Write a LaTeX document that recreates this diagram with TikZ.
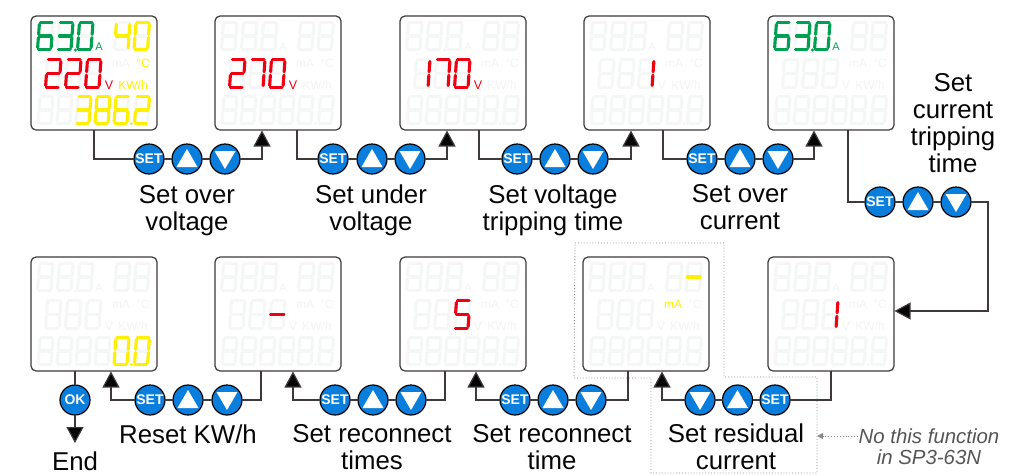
\documentclass[tikz,border=0pt]{standalone}
\usepackage{fontspec}
\setmainfont{Liberation Sans}
\usetikzlibrary{arrows.meta}
\definecolor{ink}{HTML}{3E3A39}
\definecolor{ghost}{HTML}{F5F6F6}
\definecolor{ghostlab}{HTML}{F3F4F4}
\definecolor{lcdgreen}{HTML}{00A051}
\definecolor{lcdred}{HTML}{F00010}
\definecolor{lcdyellow}{HTML}{FFF000}
\definecolor{btnblue}{HTML}{0A7EDC}
\definecolor{notegray}{HTML}{555555}
\definecolor{dotgray}{HTML}{8A8A8A}
\tikzset{
  segline/.style={line width=3.1pt,line cap=round},
  lcdpanel/.style={draw=ink,line width=1.2pt,fill=white,rounded corners=5pt,minimum width=126pt,minimum height=114pt,inner sep=0pt,outer sep=0pt},
  lcdlab/.style={inner sep=0pt,font=\fontsize{12}{12}\selectfont},
  btn/.style={circle,draw=black,line width=1.2pt,fill=btnblue,minimum size=30pt,inner sep=0pt,outer sep=0pt,text=white,font=\fontsize{14}{14}\selectfont\bfseries},
  upbtn/.style={btn,path picture={\fill[white] ([xshift=-10.5pt,yshift=-8pt]path picture bounding box.center) -- ([xshift=10.5pt,yshift=-8pt]path picture bounding box.center) -- ([yshift=10pt]path picture bounding box.center) -- cycle;}},
  dnbtn/.style={btn,path picture={\fill[white] ([xshift=-10.5pt,yshift=8pt]path picture bounding box.center) -- ([xshift=10.5pt,yshift=8pt]path picture bounding box.center) -- ([yshift=-10pt]path picture bounding box.center) -- cycle;}},
  conn/.style={draw=ink,line width=1.2pt},
  arr/.style={conn,-{Triangle[width=17pt,length=16pt,fill=black!90!ink]}},
  captext/.style={inner sep=0pt,align=center,text=black!90!ink,font=\fontsize{25.8}{27}\selectfont},
  notetext/.style={inner sep=0pt,align=center,text=notegray,font=\fontsize{20.4}{21}\selectfont\itshape},
  dotline/.style={draw=dotgray,line width=.9pt,dotted}
}
\newcommand\sega{\draw[segline] (.07,0) -- (.93,0);}
\newcommand\segb{\draw[segline] (1,.07) -- (1,.44);}
\newcommand\segc{\draw[segline] (1,.56) -- (1,.93);}
\newcommand\segd{\draw[segline] (.07,1) -- (.93,1);}
\newcommand\sege{\draw[segline] (0,.56) -- (0,.93);}
\newcommand\segf{\draw[segline] (0,.07) -- (0,.44);}
\newcommand\segg{\draw[segline] (.07,.5) -- (.93,.5);}
\newcommand\segh{\draw[segline,line width=3.9pt] (.05,.5) -- (.95,.5);}
\def\dzero{a,b,c,d,e,f}
\def\done{b,c}
\def\dtwo{a,b,g,e,d}
\def\dthree{a,b,g,c,d}
\def\dfour{f,g,b,c}
\def\dfive{a,f,g,c,d}
\def\dsix{a,f,g,e,c,d}
\def\dseven{a,b,c}
\def\deight{a,b,c,d,e,f,g}
\def\dminus{h}
% x y width height colour segments
\newcommand\dgt[6]{%
  \pgfmathsetmacro\dgw{#3-5}\pgfmathsetmacro\dgh{#4-3}%
  \begin{scope}[color=#5,shift={(#1+3.5,#2+1.5)},x={(\dgw pt,0pt)},y={(-2pt,-\dgh pt)}]
    \foreach \s in #6 {\csname seg\s\endcsname}
  \end{scope}}
\newcommand\rowA[3]{\dgt{5+20*#1}{5}{18.5}{30}{#3}{#2}}
\newcommand\rowB[3]{\dgt{82+19.5*#1}{5}{18.5}{30}{#3}{#2}}
\newcommand\rowC[3]{\dgt{13+20*#1}{42}{18.5}{31}{#3}{#2}}
% the last digit of the bottom row stands apart, with room for its point
\newcommand\rowD[3]{\pgfmathsetmacro\rdx{#1<5 ? 5.5+19*#1 : 102}\dgt{\rdx}{79}{18}{30}{#3}{#2}}
\newcommand\ptA[1]{\fill[#1] (44.5,34) circle (1.6pt);}
\newcommand\ptD[1]{\fill[#1] (100.5,107.5) circle (1.6pt);}
% name, left, top, colours of A V mA C KW/h
\newcommand\lcd[8]{%
  \node[lcdpanel] (#1) at (#2+63,#3+57) {};
  \begin{scope}[shift={(#2,#3)}]
    \foreach \i in {0,1,2} {\rowA{\i}{\deight}{ghost}}
    \foreach \i in {0,1} {\rowB{\i}{\deight}{ghost}}
    \foreach \i in {0,1,2} {\rowC{\i}{\deight}{ghost}}
    \foreach \i in {0,...,5} {\rowD{\i}{\deight}{ghost}}
    \ptA{ghost}\ptD{ghost}
    \node[lcdlab,font=\fontsize{11}{11}\selectfont,text=#4] (#1-a) at (68,31) {A};
    \node[lcdlab,font=\fontsize{12.5}{13}\selectfont,text=#5] (#1-v) at (78,69) {V};
    \node[lcdlab,text=#6] (#1-m) at (90,47) {mA};
    \node[lcdlab,text=#7] (#1-c) at (112,47) {°C};
    \node[lcdlab,text=#8] (#1-k) at (102,69) {KW/h};
  \end{scope}}
\begin{document}
\begin{tikzpicture}[x=1pt,y=-1pt]
\useasboundingbox (0,0) rectangle (1033,475);
% dotted outline
\draw[dotline] (575,243) -- (724,243) -- (724,377) -- (817,377) -- (817,473) -- (651,473) -- (651,378) -- (574,378) -- cycle;
% panels
\def\g{ghostlab}
\lcd{pa}{31}{16}{lcdgreen}{lcdred}{\g}{lcdyellow}{lcdyellow}
\lcd{pb}{215}{16}{\g}{lcdred}{\g}{\g}{\g}
\lcd{pc}{400}{16}{\g}{lcdred}{\g}{\g}{\g}
\lcd{pd}{584}{16}{\g}{\g}{\g}{\g}{\g}
\lcd{pe}{768}{16}{lcdgreen}{\g}{\g}{\g}{\g}
\lcd{pf}{768}{257}{\g}{\g}{\g}{\g}{\g}
\lcd{pg}{583}{257}{\g}{\g}{lcdyellow}{\g}{\g}
\lcd{ph}{400}{257}{\g}{\g}{\g}{\g}{\g}
\lcd{pi}{215}{257}{\g}{\g}{\g}{\g}{\g}
\lcd{pj}{31}{257}{\g}{\g}{\g}{\g}{\g}
% lit segments
\begin{scope}[shift={(31,16)}]
  \rowA{0}{\dsix}{lcdgreen}\rowA{1}{\dthree}{lcdgreen}\rowA{2}{\dzero}{lcdgreen}\ptA{lcdgreen}
  \rowB{0}{\dfour}{lcdyellow}\rowB{1}{\dzero}{lcdyellow}
  \rowC{0}{\dtwo}{lcdred}\rowC{1}{\dtwo}{lcdred}\rowC{2}{\dzero}{lcdred}
  \rowD{2}{\dthree}{lcdyellow}\rowD{3}{\deight}{lcdyellow}\rowD{4}{\dsix}{lcdyellow}\rowD{5}{\dtwo}{lcdyellow}\ptD{lcdyellow}
\end{scope}
\begin{scope}[shift={(215,16)}]
  \rowC{0}{\dtwo}{lcdred}\rowC{1}{\dseven}{lcdred}\rowC{2}{\dzero}{lcdred}
\end{scope}
\begin{scope}[shift={(400,16)}]
  \rowC{0}{\done}{lcdred}\rowC{1}{\dseven}{lcdred}\rowC{2}{\dzero}{lcdred}
\end{scope}
\begin{scope}[shift={(584,16)}]
  \rowC{2}{\done}{lcdred}
\end{scope}
\begin{scope}[shift={(768,16)}]
  \rowA{0}{\dsix}{lcdgreen}\rowA{1}{\dthree}{lcdgreen}\rowA{2}{\dzero}{lcdgreen}\ptA{lcdgreen}
\end{scope}
\begin{scope}[shift={(768,257)}]
  \rowC{2}{\done}{lcdred}
\end{scope}
\begin{scope}[shift={(583,257)}]
  \rowB{1}{\dminus}{lcdyellow}
\end{scope}
\begin{scope}[shift={(400,257)}]
  \rowC{2}{\dfive}{lcdred}
\end{scope}
\begin{scope}[shift={(215,257)}]
  \rowC{2}{\dminus}{lcdred}
\end{scope}
\begin{scope}[shift={(31,257)}]
  \rowD{4}{\dzero}{lcdyellow}\rowD{5}{\dzero}{lcdyellow}\ptD{lcdyellow}
\end{scope}
% buttons
\node[btn] (sa) at (149,159) {SET}; \node[upbtn] (ua) at (187,159) {}; \node[dnbtn] (da) at (225,159) {};
\node[btn] (sb) at (333,159) {SET}; \node[upbtn] (ub) at (372,159) {}; \node[dnbtn] (db) at (410,159) {};
\node[btn] (sc) at (517,159) {SET}; \node[upbtn] (uc) at (555,159) {}; \node[dnbtn] (dc) at (593,159) {};
\node[btn] (sd) at (702,159) {SET}; \node[upbtn] (ud) at (740,159) {}; \node[dnbtn] (dd) at (778,159) {};
\node[btn] (se) at (880,202) {SET}; \node[upbtn] (ue) at (918,202) {}; \node[dnbtn] (de) at (956,202) {};
\node[btn] (sf) at (775,400) {SET}; \node[upbtn] (uf) at (737.5,400) {}; \node[dnbtn] (df) at (700,400) {};
\node[btn] (sg) at (515,400) {SET}; \node[upbtn] (ug) at (553,400) {}; \node[dnbtn] (dg) at (591,400) {};
\node[btn] (sh) at (335,400) {SET}; \node[upbtn] (uh) at (373,400) {}; \node[dnbtn] (dh) at (411,400) {};
\node[btn] (si) at (150,400) {SET}; \node[upbtn] (ui) at (188,400) {}; \node[dnbtn] (di) at (227,400) {};
\node[btn] (ok) at (75,400) {OK};
% anchor points on the panels
\coordinate (oa) at (94,130);  \coordinate (ta) at (262,130.5);
\coordinate (ob) at (297,130); \coordinate (tb) at (447,130.5);
\coordinate (oc) at (479,130); \coordinate (tc) at (631,130.5);
\coordinate (od) at (663,130); \coordinate (td) at (814,130.5);
\coordinate (oe) at (848,130);
\coordinate (tf) at (988,311); \coordinate (te) at (894.5,311);
\coordinate (of) at (831,371); \coordinate (tg) at (662,371.5);
\coordinate (og) at (628,371); \coordinate (th) at (476,371.5);
\coordinate (oh) at (445,371); \coordinate (ti) at (293,371.5);
\coordinate (oi) at (261,371); \coordinate (tj) at (111,371.5);
\coordinate (oj) at (75,371);  \coordinate (endpt) at (75,443);
% connectors
\draw[conn] (oa) |- (sa); \draw[conn] (sa) -- (ua); \draw[conn] (ua) -- (da); \draw[arr] (da) -| (ta);
\draw[conn] (ob) |- (sb); \draw[conn] (sb) -- (ub); \draw[conn] (ub) -- (db); \draw[arr] (db) -| (tb);
\draw[conn] (oc) |- (sc); \draw[conn] (sc) -- (uc); \draw[conn] (uc) -- (dc); \draw[arr] (dc) -| (tc);
\draw[conn] (od) |- (sd); \draw[conn] (sd) -- (ud); \draw[conn] (ud) -- (dd); \draw[arr] (dd) -| (td);
\draw[conn] (oe) |- (se); \draw[conn] (se) -- (ue); \draw[conn] (ue) -- (de);
\draw[arr] (de) -| (tf) -- (te);
\draw[conn] (of) |- (sf); \draw[conn] (sf) -- (uf); \draw[conn] (uf) -- (df); \draw[arr] (df) -| (tg);
\draw[conn] (og) |- (dg); \draw[conn] (dg) -- (ug); \draw[conn] (ug) -- (sg); \draw[arr] (sg) -| (th);
\draw[conn] (oh) |- (dh); \draw[conn] (dh) -- (uh); \draw[conn] (uh) -- (sh); \draw[arr] (sh) -| (ti);
\draw[conn] (oi) |- (di); \draw[conn] (di) -- (ui); \draw[conn] (ui) -- (si); \draw[arr] (si) -| (tj);
\draw[conn] (oj) -- (ok); \draw[arr] (ok) -- (endpt);
% captions
\node[captext] (ca) at (187,210.5) {Set over\\voltage};
\node[captext] (cb) at (371,210.5) {Set under\\voltage};
\node[captext] (cc) at (553,210.5) {Set voltage\\tripping time};
\node[captext] (cd) at (740,207) {Set over\\current};
\node[captext] (ce) at (953,123.5) {Set\\current\\tripping\\time};
\node[captext] (cf) at (736,447) {Set residual\\current};
\node[captext] (cg) at (552,447) {Set reconnect\\time};
\node[captext] (ch) at (372,447) {Set reconnect\\times};
\node[captext] (ci) at (188,434) {Reset KW/h};
\node[captext] (cj) at (75,461) {End};
\node[notetext] (nt) at (929,447) {No this function\\in SP3-63N};
\coordinate (dotend) at (817,436);
\draw[dotline,-{Triangle[width=6pt,length=6pt,fill=dotgray]}] (858,436) -- (dotend);
\end{tikzpicture}
\end{document}
